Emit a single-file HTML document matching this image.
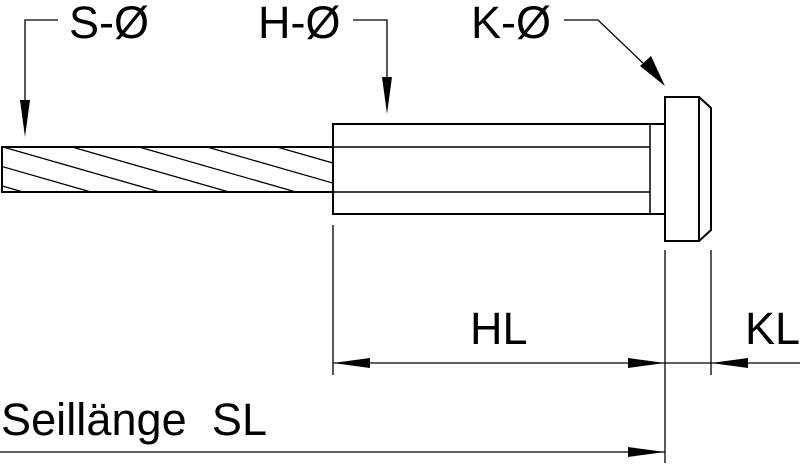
<!DOCTYPE html>
<html><head><style>html,body{margin:0;padding:0;background:#fff}svg{display:block}</style></head><body>
<svg width="800" height="464" viewBox="0 0 800 464" xmlns="http://www.w3.org/2000/svg" font-family="Liberation Sans, Arial, sans-serif">
<defs><clipPath id="c"><rect x="2" y="148" width="331" height="44"/></clipPath></defs>
<g stroke="#000" fill="none" stroke-width="2">
<rect x="2" y="147" width="331" height="45"/>
<rect x="333" y="124" width="332" height="90"/>
<line x1="333" y1="147" x2="650" y2="147" stroke-width="1.5"/>
<line x1="333" y1="192" x2="650" y2="192" stroke-width="1.5"/>
<line x1="650" y1="124" x2="650" y2="214" stroke-width="1.5"/>
<rect x="665" y="97" width="34" height="144"/>
<path d="M699 97 L711 108 L711 230 L699 241"/>
</g>
<g stroke="#000" stroke-width="1.3" clip-path="url(#c)">
<line x1="-200" y1="147" x2="-43" y2="192"/>
<line x1="-134" y1="147" x2="23" y2="192"/>
<line x1="-66" y1="147" x2="91" y2="192"/>
<line x1="3" y1="147" x2="160" y2="192"/>
<line x1="72" y1="147" x2="229" y2="192"/>
<line x1="139" y1="147" x2="296" y2="192"/>
<line x1="207" y1="147" x2="364" y2="192"/>
<line x1="277" y1="147" x2="434" y2="192"/>
</g>
<g stroke="#000" stroke-width="1.3" fill="none">
<polyline points="58,20 25,20 25,110"/>
<polyline points="353,20 387,20 387,90"/>
<polyline points="564,20 598,20 645,65"/>
<line x1="333" y1="225" x2="333" y2="375"/>
<line x1="665" y1="250" x2="665" y2="463"/>
<line x1="711" y1="250" x2="711" y2="375"/>
<line x1="333" y1="363" x2="800" y2="363"/>
<line x1="0" y1="452" x2="665" y2="452"/>
</g>
<g fill="#000">
<polygon points="25,137 20,100 30,100"/>
<polygon points="387,114 382,77 392,77"/>
<polygon points="665,86 640,66 651,56"/>
<polygon points="333,363 370,358 370,368"/>
<polygon points="665,363 628,358 628,368"/>
<polygon points="711,363 748,358 748,368"/>
<polygon points="665,452 628,447 628,457"/>
</g>
<g font-size="45" fill="#000">
<text x="69" y="38">S-Ø</text>
<text x="258" y="38">H-Ø</text>
<text x="471" y="38">K-Ø</text>
<text x="470" y="344">HL</text>
<text x="745" y="344">KL</text>
<text x="1" y="435" textLength="266" xml:space="preserve">Seillänge  SL</text>
</g>
</svg>
</body></html>
